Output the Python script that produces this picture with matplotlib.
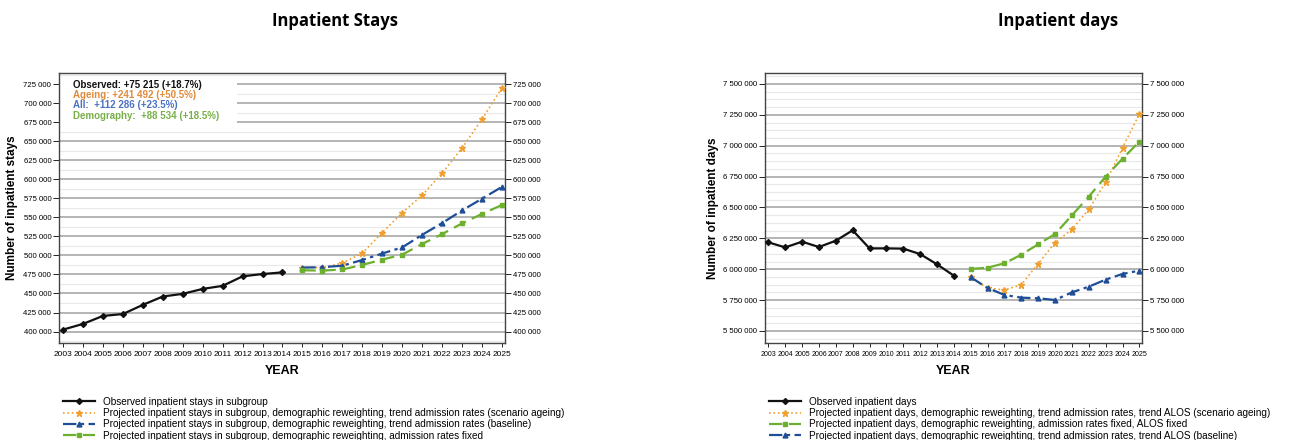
import numpy as np
import matplotlib
matplotlib.use("Agg")
from matplotlib import pyplot as plt
from matplotlib.ticker import FuncFormatter, MultipleLocator

plt.rcParams['font.family'] = ['Liberation Sans', 'DejaVu Sans']

years_obs = list(range(2003, 2015))
years_proj = list(range(2015, 2026))

# inpatient stays
stays_observed = [402500, 410000, 420500, 423000, 435000, 446000, 449500, 456000, 460000, 472500, 475500, 477700]
stays_ageing = [484000, 484000, 490000, 503000, 530000, 556000, 579000, 608000, 641000, 679000, 720000]
stays_all = [484000, 484500, 486500, 494000, 502500, 510500, 527000, 542500, 559000, 574500, 590000]
stays_demo = [480500, 480000, 481500, 487500, 494500, 501000, 515000, 528000, 542000, 554500, 566200]

# inpatient days
days_observed = [6218000, 6177000, 6223000, 6180000, 6231000, 6315000, 6169000, 6169000, 6167000, 6123000, 6040000, 5948000]
days_ageing = [5935000, 5848000, 5832000, 5875000, 6045000, 6215000, 6323000, 6485000, 6704000, 6982000, 7257000]
days_fixed = [6002000, 6013000, 6048000, 6118000, 6202000, 6285000, 6437000, 6588000, 6750000, 6895000, 7033000]
days_baseline = [5935000, 5848000, 5792000, 5770000, 5765000, 5751000, 5813000, 5859000, 5916000, 5962000, 5989000]

stays_notes = ["Observed: +75 215 (+18.7%)", "Ageing: +241 492 (+50.5%)",
               "All:  +112 286 (+23.5%)", "Demography:  +88 534 (+18.5%)"]

BLACK = "#111111"
ORANGE = "#F0A030"
BLUE = "#1F4E96"
GREEN = "#6DB030"
note_colors = [BLACK, "#E08A3C", "#4A72C0", "#78B048"]

fmt = FuncFormatter(lambda v, p: f"{int(v):,}".replace(",", " "))

fig = plt.figure(figsize=(13.13, 4.40), dpi=100)
ax1 = fig.add_axes([0.0449, 0.2205, 0.3397, 0.6136])
ax2 = fig.add_axes([0.5826, 0.2205, 0.2871, 0.6136])


def style(ax, ylim, major, minor, xsize, ysize):
    ax.set_xlim(2002.8, 2025.15)
    ax.set_ylim(*ylim)
    ax.yaxis.set_major_locator(MultipleLocator(major))
    ax.yaxis.set_minor_locator(MultipleLocator(minor))
    ax.yaxis.set_major_formatter(fmt)
    ax.set_xticks(range(2003, 2026))
    ax.grid(axis="y", which="major", color="#a0a0a0", lw=1.1, zorder=0)
    ax.grid(axis="y", which="minor", color="#e8e8e8", lw=0.8, zorder=0)
    ax.tick_params(axis="y", which="both", right=True, labelright=True, labelsize=ysize,
                   length=4, width=0.6, pad=1.5)
    ax.tick_params(axis="y", which="minor", length=0)
    ax.tick_params(axis="x", labelsize=xsize, length=3, width=0.6, pad=2.5)
    for s in ax.spines.values():
        s.set_color("#444444")
        s.set_linewidth(1.0)
    ax.set_xlabel("YEAR", fontsize=9, fontweight="bold", labelpad=5)


def add_legend(ax):
    ax.legend(loc="upper left", bbox_to_anchor=(0.0, -0.185), frameon=False,
              handlelength=3.2, labelspacing=0.12, borderaxespad=0, handletextpad=0.8,
              fontsize=7.2)


# left chart
ax1.plot(years_obs, stays_observed, color=BLACK, lw=1.6, marker="D", ms=3,
         label="Observed inpatient stays in subgroup", zorder=3)
ax1.plot(years_proj, stays_ageing, color=ORANGE, lw=1.2, ls=":", marker="*", ms=5,
         label="Projected inpatient stays in subgroup, demographic reweighting, trend admission rates (scenario ageing)", zorder=3)
ax1.plot(years_proj, stays_all, color=BLUE, lw=1.6, ls=(0, (6, 2, 1.5, 2)), marker="^", ms=3.5,
         label="Projected inpatient stays in subgroup, demographic reweighting, trend admission rates (baseline)", zorder=3)
ax1.plot(years_proj, stays_demo, color=GREEN, lw=1.6, ls=(0, (6, 3)), marker="s", ms=3.5,
         label="Projected inpatient stays in subgroup, demographic reweighting, admission rates fixed", zorder=3)
style(ax1, (385000, 739500), 25000, 12500, 6.0, 5.6)
ax1.set_ylabel("Number of inpatient stays", fontsize=8.5, fontweight="bold", labelpad=4)

ypos = [0.955, 0.918, 0.881, 0.842]
for txt, c, y in zip(stays_notes, note_colors, ypos):
    ax1.text(0.032, y, txt, transform=ax1.transAxes, color=c, fontsize=7, fontweight="bold",
             va="center", zorder=4)
ax1.add_patch(plt.Rectangle((0.003, 0.815), 0.397, 0.17, transform=ax1.transAxes,
                            facecolor="white", edgecolor="none", zorder=2))
add_legend(ax1)

# right chart
ax2.plot(years_obs, days_observed, color=BLACK, lw=1.6, marker="D", ms=3,
         label="Observed inpatient days", zorder=3)
ax2.plot(years_proj, days_ageing, color=ORANGE, lw=1.2, ls=":", marker="*", ms=5,
         label="Projected inpatient days, demographic reweighting, trend admission rates, trend ALOS (scenario ageing)", zorder=3)
ax2.plot(years_proj, days_fixed, color=GREEN, lw=1.6, ls=(0, (6, 3)), marker="s", ms=3.5,
         label="Projected inpatient days, demographic reweighting, admission rates fixed, ALOS fixed", zorder=3)
ax2.plot(years_proj, days_baseline, color=BLUE, lw=1.6, ls=(0, (6, 2, 1.5, 2)), marker="^", ms=3.5,
         label="Projected inpatient days, demographic reweighting, trend admission rates, trend ALOS (baseline)", zorder=3)
style(ax2, (5403000, 7589000), 250000, 62500, 5.0, 5.6)
ax2.set_ylabel("Number of inpatient days", fontsize=8.5, fontweight="bold", labelpad=3)
add_legend(ax2)

fig.text(0.255, 0.952, "Inpatient Stays", ha="center", va="center", fontsize=12, fontweight="bold",
         family=["Open Sans", "DejaVu Sans"])
fig.text(0.806, 0.952, "Inpatient days", ha="center", va="center", fontsize=12, fontweight="bold",
         family=["Open Sans", "DejaVu Sans"])

fig.savefig("out.png", dpi=100)
